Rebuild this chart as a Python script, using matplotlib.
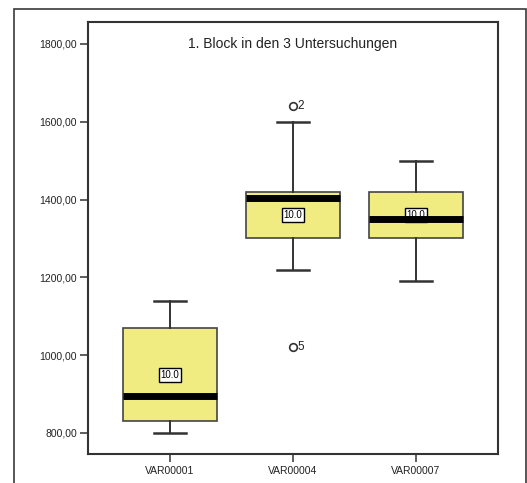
import matplotlib
matplotlib.use("Agg")
import matplotlib.pyplot as plt
from matplotlib.patches import Rectangle

plt.rcParams['font.family'] = ['Liberation Sans', 'DejaVu Sans']

# Box statistics per variable
categories = ["VAR00001", "VAR00004", "VAR00007"]
whisker_low = [800, 1220, 1190]
q1 = [830, 1300, 1300]
median = [895, 1405, 1350]
q3 = [1070, 1420, 1420]
whisker_high = [1140, 1600, 1500]
outliers = [[], [1640, 1020], []]
outlier_ids = [[], ["2", "5"], []]
box_labels = ["10.0", "10.0", "10.0"]
yticks = [800, 1000, 1200, 1400, 1600, 1800]
title = "1. Block in den 3 Untersuchungen"

fig = plt.figure(figsize=(5.27, 4.83), dpi=100)
W, H = 527, 483
ax = fig.add_axes([88 / W, 1 - 454 / H, 410 / W, (454 - 21.7) / H])

# Outer frame around the chart
fig.patches.append(Rectangle((14 / W, -0.05), (526 - 14) / W, 1.05 - 9 / H,
                             transform=fig.transFigure, fill=False,
                             edgecolor="#3a3a3a", linewidth=1.2, clip_on=False))

stats = []
for i, name in enumerate(categories):
    stats.append(dict(label=name, whislo=whisker_low[i], q1=q1[i], med=median[i],
                      q3=q3[i], whishi=whisker_high[i], fliers=[]))

positions = [1, 2, 3]
ax.bxp(stats, positions=positions, widths=0.76, capwidths=0.26,
       showfliers=False, patch_artist=True,
       boxprops=dict(facecolor="#F0EC82", edgecolor="#444444", linewidth=1.2),
       medianprops=dict(color="black", linewidth=5, solid_capstyle="butt", zorder=4),
       whiskerprops=dict(color="#333333", linewidth=1.4),
       capprops=dict(color="#333333", linewidth=1.8))

for i, pos in enumerate(positions):
    ax.text(pos, (q1[i] + q3[i]) / 2, box_labels[i], ha="center", va="center",
            fontsize=7, zorder=3,
            bbox=dict(boxstyle="square,pad=0.2", facecolor="white",
                      edgecolor="black", linewidth=1))
    for val, oid in zip(outliers[i], outlier_ids[i]):
        ax.plot(pos, val, marker="o", markersize=5.5, markerfacecolor="none",
                markeredgecolor="#333333", markeredgewidth=1.2, zorder=5)
        ax.text(pos + 0.04, val, oid, ha="left", va="center", fontsize=8.5,
                color="#222222")

ax.set_xlim(0.333, 3.667)
ax.set_ylim(746, 1857)
ax.set_yticks(yticks)
ax.set_yticklabels([f"{v},00" for v in yticks], fontsize=7.5, color="#222222")
ax.set_xticks(positions)
ax.set_xticklabels(categories, fontsize=7.5, color="#222222")
ax.tick_params(axis="both", direction="out", length=6, width=1.1, color="#333333")
ax.tick_params(axis="y", pad=2)
ax.tick_params(axis="x", pad=3)
for sp in ax.spines.values():
    sp.set_color("#333333")
    sp.set_linewidth(1.5)

ax.text(0.5, 1800, title, transform=ax.get_yaxis_transform(), ha="center",
        va="center", fontsize=10, color="#222222")

fig.savefig("out.png", dpi=100)
